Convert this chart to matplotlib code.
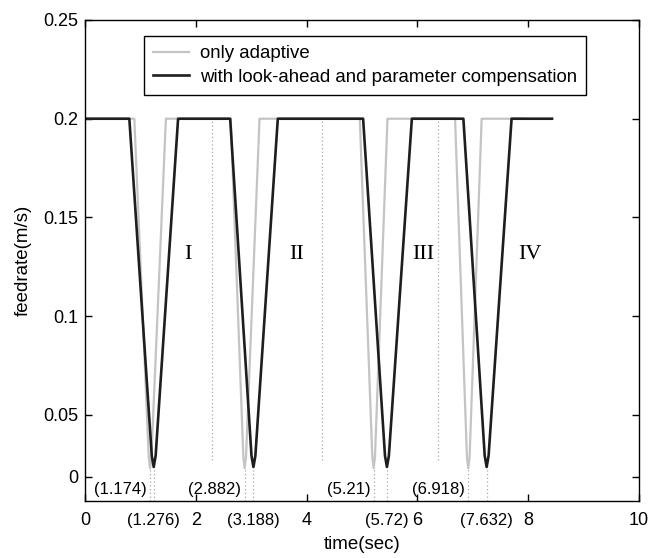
#!/usr/bin/env python3
"""Feedrate vs. time: only adaptive vs. look-ahead with parameter compensation."""

import matplotlib
matplotlib.use("Agg")
import matplotlib.pyplot as plt
import matplotlib.transforms as mtransforms
import numpy as np

# only adaptive (grey) curve, corner points
gray_t = [0.0, 0.89, 1.150, 1.174, 1.198, 1.46,
          2.63, 2.858, 2.882, 2.906, 3.15,
          4.96, 5.186, 5.21, 5.234, 5.46,
          6.68, 6.894, 6.918, 6.942, 7.16, 7.90]
gray_v = [0.2, 0.2, 0.016, 0.007, 0.016, 0.2,
          0.2, 0.016, 0.007, 0.016, 0.2,
          0.2, 0.016, 0.007, 0.016, 0.2,
          0.2, 0.016, 0.007, 0.016, 0.2, 0.2]

# look-ahead + parameter compensation (black) curve
black_t = [0.0, 0.80, 1.205, 1.24, 1.275, 1.68,
           2.62, 3.005, 3.04, 3.075, 3.48,
           5.02, 5.415, 5.45, 5.485, 5.90,
           6.83, 7.215, 7.25, 7.285, 7.70, 8.43]
black_v = [0.2, 0.2, 0.017, 0.008, 0.017, 0.2,
           0.2, 0.017, 0.008, 0.017, 0.2,
           0.2, 0.017, 0.008, 0.017, 0.2,
           0.2, 0.017, 0.008, 0.017, 0.2, 0.2]

# minima marked with dotted drop lines
gray_min_t = [1.174, 2.882, 5.21, 6.918]
black_min_t = [1.24, 3.04, 5.45, 7.25]
gray_min_labels = ["(1.174)", "(2.882)", "(5.21)", "(6.918)"]
black_min_labels = ["(1.276)", "(3.188)", "(5.72)", "(7.632)"]

# boundaries between the segments
boundary_t = [2.29, 4.27, 6.38]
segment_labels = ["I", "II", "III", "IV"]
segment_t = [1.85, 3.82, 6.11, 8.03]


# the original figure has a squeezed strip between 0 and 0.05
def squeeze(v):
    v = np.asarray(v, dtype=float)
    return np.where(v < 0.05, v * 1240.0, 62.0 + (v - 0.05) * 1975.0)


def unsqueeze(p):
    p = np.asarray(p, dtype=float)
    return np.where(p < 62.0, p / 1240.0, 0.05 + (p - 62.0) / 1975.0)


plt.rcParams["font.family"] = ["Liberation Sans", "DejaVu Sans"]

fig = plt.figure(figsize=(6.48, 5.58), dpi=100)
ax = fig.add_axes([0.1312, 0.1022, 0.8549, 0.862])
ax.set_yscale("function", functions=(squeeze, unsqueeze))

ymin, ymax = -0.0194, 0.25
dot_color = "#a8a8a8"
dots = (0, (1, 2))

ax.vlines(boundary_t, 0.014, 0.2, colors=dot_color, linestyles=dots, linewidth=0.9)
ax.vlines(gray_min_t, ymin, 0.007, colors=dot_color, linestyles=dots, linewidth=0.9)
ax.vlines(black_min_t, ymin, 0.008, colors=dot_color, linestyles=dots, linewidth=0.9)

ax.plot(gray_t, gray_v, color="#c4c4c4", linewidth=1.6, label="only adaptive")
ax.plot(black_t, black_v, color="#1e1e1e", linewidth=1.9,
        label="with look-ahead and parameter compensation")

ax.set_xlim(0, 10)
ax.set_ylim(ymin, ymax)
ax.set_xticks([0, 2, 4, 6, 8, 10])
ax.set_yticks([0, 0.05, 0.1, 0.15, 0.2, 0.25])
ax.set_yticklabels(["0", "0.05", "0.1", "0.15", "0.2", "0.25"])
ax.minorticks_off()
ax.tick_params(direction="in", length=5, width=1, top=True, right=True, labelsize=13)
ax.tick_params(axis="x", pad=8)
ax.tick_params(axis="y", pad=5)
for spine in ax.spines.values():
    spine.set_linewidth(1.0)

ax.set_xlabel("time(sec)", fontsize=13.5, labelpad=5)
ax.set_ylabel("feedrate(m/s)", fontsize=13.5, labelpad=8)

# min-time annotations
trans = mtransforms.blended_transform_factory(ax.transData, ax.transAxes)
for t, label in zip(gray_min_t, gray_min_labels):
    ax.text(t - 0.06, 0.023, label, transform=trans, ha="right", va="center", fontsize=12)
for t, label in zip(black_min_t, black_min_labels):
    ax.text(t, -0.025, label, transform=trans, ha="center", va="top", fontsize=12, clip_on=False)

for t, label in zip(segment_t, segment_labels):
    ax.text(t, 0.131, label, ha="center", va="center", fontsize=16,
            family=["Liberation Serif", "DejaVu Serif"])

leg = ax.legend(loc="upper left", bbox_to_anchor=(0.1065, 0.967), borderaxespad=0,
                fontsize=13.4, handlelength=1.9, handletextpad=0.6, borderpad=0.5,
                labelspacing=0.35, fancybox=False, framealpha=1, edgecolor="black")
leg.get_frame().set_linewidth(1.0)

fig.savefig("out.png", dpi=100)
